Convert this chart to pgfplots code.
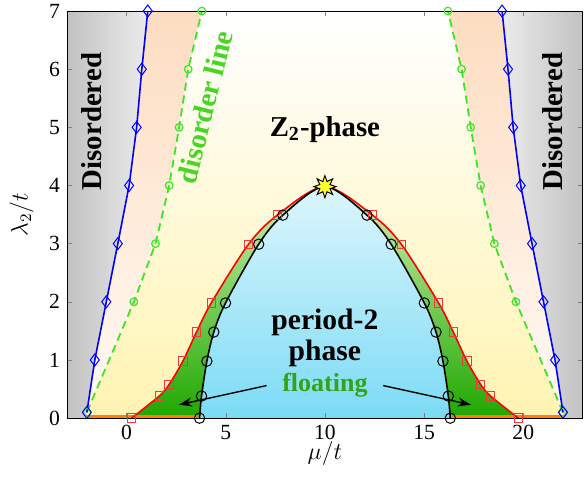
\documentclass[border=0pt]{standalone}
\usepackage{fontspec}
\setmainfont{Liberation Serif}
\usepackage{pgfplots}
\pgfplotsset{compat=1.18}
\usetikzlibrary{arrows.meta,calc}

\definecolor{peachtop}{HTML}{FDDDC1}
\definecolor{peachbot}{HTML}{FFFAF4}
\definecolor{yelbot}{HTML}{FFF4B2}
\definecolor{fltop}{HTML}{D2F1B2}
\definecolor{flbot}{HTML}{1EA800}
\definecolor{p2top}{HTML}{DDF6FC}
\definecolor{p2bot}{HTML}{7BDBF5}
\definecolor{dline}{HTML}{3FE425}
\definecolor{dtext}{HTML}{48D624}
\definecolor{ftext}{HTML}{33A317}
\definecolor{sqred}{HTML}{F03A3A}
\definecolor{staryel}{HTML}{FFFF33}

\pgfdeclareplotmark{burst}{%
  \pgfpathmoveto{\pgfpointpolar{90}{\pgfplotmarksize}}%
  \pgfpathlineto{\pgfpointpolar{112.5}{0.5\pgfplotmarksize}}%
  \pgfpathlineto{\pgfpointpolar{135}{\pgfplotmarksize}}%
  \pgfpathlineto{\pgfpointpolar{157.5}{0.5\pgfplotmarksize}}%
  \pgfpathlineto{\pgfpointpolar{180}{\pgfplotmarksize}}%
  \pgfpathlineto{\pgfpointpolar{202.5}{0.5\pgfplotmarksize}}%
  \pgfpathlineto{\pgfpointpolar{225}{\pgfplotmarksize}}%
  \pgfpathlineto{\pgfpointpolar{247.5}{0.5\pgfplotmarksize}}%
  \pgfpathlineto{\pgfpointpolar{270}{\pgfplotmarksize}}%
  \pgfpathlineto{\pgfpointpolar{292.5}{0.5\pgfplotmarksize}}%
  \pgfpathlineto{\pgfpointpolar{315}{\pgfplotmarksize}}%
  \pgfpathlineto{\pgfpointpolar{337.5}{0.5\pgfplotmarksize}}%
  \pgfpathlineto{\pgfpointpolar{0}{\pgfplotmarksize}}%
  \pgfpathlineto{\pgfpointpolar{22.5}{0.5\pgfplotmarksize}}%
  \pgfpathlineto{\pgfpointpolar{45}{\pgfplotmarksize}}%
  \pgfpathlineto{\pgfpointpolar{67.5}{0.5\pgfplotmarksize}}%
  \pgfpathclose
  \pgfusepathqfillstroke
}

\begin{document}
\begin{tikzpicture}
\begin{axis}[
  scale only axis,
  width=257.8pt, height=203.5pt,
  xmin=-3, xmax=23, ymin=0, ymax=7,
  xtick={0,5,10,15,20}, ytick={0,1,2,3,4,5,6,7},
  tick label style={font=\fontsize{10.8}{12}\selectfont},
  /pgf/number format/assume math mode=true,
  xlabel={$\mu/t$}, ylabel={$\lambda_2/t$},
  label style={font=\fontsize{12}{14}\selectfont},
  xlabel style={at={(axis description cs:0.5,-0.088)}, anchor=center},
  ylabel style={at={(axis description cs:-0.088,0.5)}, anchor=center},
  axis on top,
  major tick length=2.5pt,
]
% disordered (grey) regions
\addplot[draw=none, left color=black!24, right color=black!8] coordinates {
  (-3,0)(-3,7)(1.07,7)(0.77,6)(0.51,5)(0.13,4)(-0.44,3)(-1.02,2)(-1.6,1)(-2,0.1)(-2,0)} -- cycle;
\addplot[draw=none, right color=black!24, left color=black!8] coordinates {
  (23,0)(23,7)(18.93,7)(19.23,6)(19.49,5)(19.87,4)(20.44,3)(21.02,2)(21.6,1)(22,0.1)(22,0)} -- cycle;
% between transition and disorder line
\addplot[draw=none, top color=peachtop, bottom color=peachbot] coordinates {
  (-2,0)(-2,0.1)(-1.6,1)(-1.02,2)(-0.44,3)(0.13,4)(0.51,5)(0.77,6)(1.07,7)
  (18.93,7)(19.23,6)(19.49,5)(19.87,4)(20.44,3)(21.02,2)(21.6,1)(22,0.1)(22,0)} -- cycle;
% Z2 phase
\addplot[draw=none, top color=white, bottom color=yelbot] coordinates {
  (-2,0)(-2,0.1)(0.37,2)(1.46,3)(2.15,4)(2.65,5)(3.11,6)(3.8,7)
  (16.2,7)(16.89,6)(17.35,5)(17.85,4)(18.54,3)(19.63,2)(22,0.1)(22,0)} -- cycle;
% floating
\addplot[draw=none, smooth, tension=0.5, top color=fltop, bottom color=flbot] coordinates {
  (0.25,0)(1.65,0.38)(2.15,0.58)(2.84,0.98)(3.53,1.48)(4.27,1.98)(6.15,2.99)(7.6,3.49)(10,3.98)
  (12.4,3.49)(13.85,2.99)(15.73,1.98)(16.47,1.48)(17.16,0.98)(17.85,0.58)(18.35,0.38)(19.75,0)} -- cycle;
% period-2
\addplot[draw=none, smooth, tension=0.5, top color=p2top, bottom color=p2bot] coordinates {
  (3.68,0)(3.78,0.38)(4.05,0.98)(4.4,1.48)(4.99,1.98)(6.66,2.99)(7.88,3.49)(10,3.98)
  (12.12,3.49)(13.34,2.99)(15.01,1.98)(15.6,1.48)(15.95,0.98)(16.22,0.38)(16.32,0)} -- cycle;

% orange lines on the axis
\addplot[orange, line width=3pt] coordinates {(-2,0)(3.68,0)};
\addplot[orange, line width=3pt] coordinates {(16.32,0)(22,0)};

% disorder lines
\addplot[dline, line width=0.9pt, dash pattern=on 4pt off 2.5pt, mark=o, mark size=1.9pt,
  mark options={solid, line width=0.6pt}] coordinates {
  (-2,0.1)(0.37,2)(1.46,3)(2.15,4)(2.65,5)(3.11,6)(3.8,7)};
\addplot[dline, line width=0.9pt, dash pattern=on 4pt off 2.5pt, mark=o, mark size=1.9pt,
  mark options={solid, line width=0.6pt}] coordinates {
  (22,0.1)(19.63,2)(18.54,3)(17.85,4)(17.35,5)(16.89,6)(16.2,7)};

% transitions to disordered phase
\addplot[blue, line width=0.8pt, mark=diamond, mark size=3pt,
  mark options={line width=0.5pt}] coordinates {
  (-2,0.1)(-1.6,1)(-1.02,2)(-0.44,3)(0.13,4)(0.51,5)(0.77,6)(1.07,7)};
\addplot[blue, line width=0.8pt, mark=diamond, mark size=3pt,
  mark options={line width=0.5pt}] coordinates {
  (22,0.1)(21.6,1)(21.02,2)(20.44,3)(19.87,4)(19.49,5)(19.23,6)(18.93,7)};

% Z2 - floating boundary
\addplot[red, line width=0.8pt, smooth, tension=0.5, mark=square, mark size=2.1pt,
  mark options={sqred, line width=0.5pt}, mark indices={1,2,3,4,5,6,7,8,10,11,12,13,14,15,16,17}] coordinates {
  (0.25,0)(1.65,0.38)(2.15,0.58)(2.84,0.98)(3.53,1.48)(4.27,1.98)(6.15,2.99)(7.6,3.49)(10,3.98)
  (12.4,3.49)(13.85,2.99)(15.73,1.98)(16.47,1.48)(17.16,0.98)(17.85,0.58)(18.35,0.38)(19.75,0)};
% floating - period-2 boundary
\addplot[black, line width=0.8pt, smooth, tension=0.5, mark=o, mark size=2.6pt,
  mark options={line width=0.5pt}, mark indices={1,2,3,4,5,6,7,9,10,11,12,13,14,15}] coordinates {
  (3.68,0)(3.78,0.38)(4.05,0.98)(4.4,1.48)(4.99,1.98)(6.66,2.99)(7.88,3.49)(10,3.98)
  (12.12,3.49)(13.34,2.99)(15.01,1.98)(15.6,1.48)(15.95,0.98)(16.22,0.38)(16.32,0)};

% multicritical point
\addplot[only marks, mark=burst, mark size=5.5pt,
  mark options={fill=staryel, draw=black, line width=0.5pt}] coordinates {(10,3.98)};

% labels
\node[rotate=90, font=\fontsize{14.4}{16}\selectfont\bfseries] at (axis cs:-1.77,5.1) {Disordered};
\node[rotate=90, font=\fontsize{14.4}{16}\selectfont\bfseries] at (axis cs:21.47,5.1) {Disordered};
\node[rotate=76, text=dtext, font=\fontsize{14.4}{16}\selectfont\bfseries] at (axis cs:3.95,5.35) {disorder line};
\node[font=\fontsize{14.4}{16}\selectfont\bfseries] at (axis cs:10,4.96) {Z\textsubscript{2}-phase};
\node[align=center, font=\fontsize{14.8}{15}\selectfont\bfseries] at (axis cs:10,1.38) {period-2\\phase};
\node[text=ftext, font=\fontsize{13}{15}\selectfont\bfseries] at (axis cs:10,0.57) {floating};
\draw[-{Stealth[length=6.5pt, width=4.5pt]}, line width=0.7pt] (axis cs:7.06,0.56) -- (axis cs:2.64,0.23);
\draw[-{Stealth[length=6.5pt, width=4.5pt]}, line width=0.7pt] (axis cs:12.94,0.56) -- (axis cs:17.36,0.23);
\end{axis}
\pgfresetboundingbox
\path ($(current axis.south west)+(-33.5pt,-29.5pt)$) rectangle ($(current axis.north east)+(0.6pt,5.5pt)$);
\end{tikzpicture}
\end{document}
